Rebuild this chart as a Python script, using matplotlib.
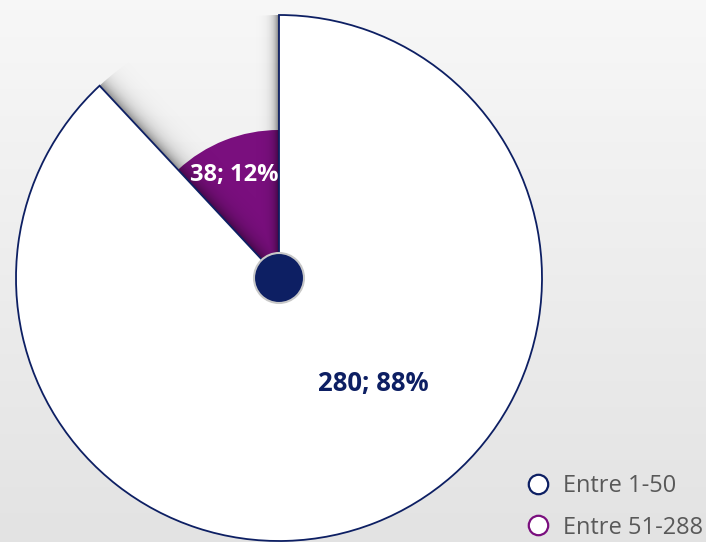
import numpy as np
import matplotlib.pyplot as plt
from matplotlib.patches import Circle, Wedge
from matplotlib.lines import Line2D

labels = ['Entre 1-50', 'Entre 51-288']
values = [280, 38]
pcts = ['88%', '12%']
colors = ['white', '#7a0f7e']
edge_colors = ['#0d1f63', '#7a0f7e']
small_radius = 148 / 263

plt.rcParams['font.family'] = ['Open Sans', 'DejaVu Sans']

fig = plt.figure(figsize=(7.06, 5.42), dpi=100)
ax = fig.add_axes([0, 0, 1, 1])
x0, x1 = -279 / 263, (706 - 279) / 263
y0, y1 = -(542 - 278) / 263, 278 / 263

# background gradient
grad = np.linspace(0.97, 0.89, 256).reshape(-1, 1)
ax.imshow(np.dstack([grad] * 3), extent=[x0, x1, y0, y1], aspect='auto', zorder=0)

wedges, _ = ax.pie(values, startangle=90, counterclock=False, colors=colors,
                   wedgeprops=dict(edgecolor='none', linewidth=0))
for w in wedges:
    w.set_zorder(2)
wedges[1].set_radius(small_radius)
wedges[0].set_edgecolor('#0d1f63')
wedges[0].set_linewidth(1.3)
wedges[0].set_zorder(4)

# shadow inside the notch left by the small slice
notch = Wedge((0, 0), 1.0, wedges[1].theta1, wedges[1].theta2)
xs = np.linspace(-1, 0.2, 500)
ys = np.linspace(-0.2, 1.05, 500)
X, Y = np.meshgrid(xs, ys)
a1 = np.deg2rad(wedges[1].theta1)
a2 = np.deg2rad(wedges[1].theta2)
d1 = np.abs(X * np.sin(a1) - Y * np.cos(a1))
d2 = np.abs(X * np.sin(a2) - Y * np.cos(a2))
alpha = np.maximum(0.55 * np.exp(-d1 / 0.018), 0.45 * np.exp(-d2 / 0.03))
rgba = np.zeros(X.shape + (4,))
rgba[..., 3] = alpha
im = ax.imshow(rgba, extent=[xs[0], xs[-1], ys[0], ys[-1]], origin='lower',
               aspect='auto', zorder=3)
ax.add_patch(notch)
notch.set_visible(False)
im.set_clip_path(notch)

ax.add_patch(Circle((0, 0), 25 / 263, facecolor='#0d1f63', edgecolor='#c8c8c8',
                    linewidth=1.5, zorder=5))

ax.text(94 / 263, -105 / 263, f'{values[0]}; {pcts[0]}', color='#0d1f63',
        fontsize=18.5, fontweight='bold', ha='center', va='center', zorder=6)
ax.text(-45 / 263, 103 / 263, f'{values[1]}; {pcts[1]}', color='white',
        fontsize=17, fontweight='bold', ha='center', va='center', zorder=6)

handles = [Line2D([], [], linestyle='none', marker='o', markersize=14,
                  markerfacecolor='white', markeredgecolor=c, markeredgewidth=1.6)
           for c in edge_colors]
ax.legend(handles, labels, loc='lower right', bbox_to_anchor=(1.026, -0.035),
          frameon=False, fontsize=17, labelcolor='#595959',
          handlelength=1.4, handletextpad=0.35, labelspacing=0.75)

ax.set_xlim(x0, x1)
ax.set_ylim(y0, y1)
ax.axis('off')
fig.savefig('out.png', dpi=100)
